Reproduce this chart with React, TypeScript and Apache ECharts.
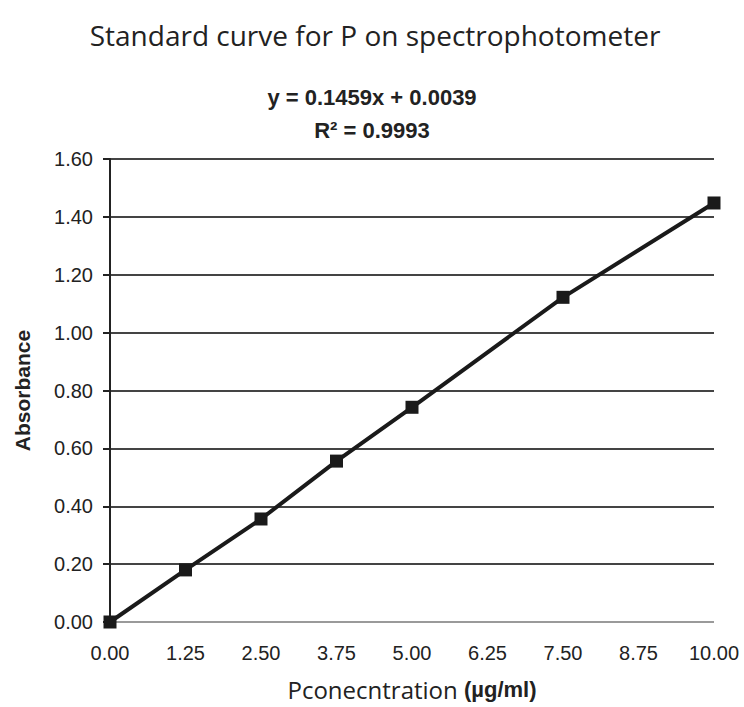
import React, { useEffect, useRef } from "react";
import * as echarts from "echarts";

const concentrations = [0, 1.25, 2.5, 3.75, 5.0, 7.5, 10.0];
const absorbance = [0.0, 0.18, 0.356, 0.556, 0.742, 1.122, 1.448];
const chartTitle = "Standard curve for P on spectrophotometer";
const equationText = "y = 0.1459x + 0.0039";
const r2Text = "R² = 0.9993";

export default function App() {
  const ref = useRef<HTMLDivElement>(null);
  useEffect(() => {
    if (!ref.current) return;
    const chart = echarts.init(ref.current, undefined, { renderer: "svg" });
    const armono = "'Liberation Sans', Arial, sans-serif";
    chart.setOption({
      animation: false,
      backgroundColor: "#ffffff",
      grid: { left: 110, right: 30, top: 159, bottom: 85, containLabel: false },
      graphic: [
        {
          type: "text",
          x: 375,
          y: 35,
          style: {
            text: chartTitle,
            font: "28px 'Open Sans', sans-serif",
            fill: "#222",
            textAlign: "center",
            textVerticalAlign: "middle",
          },
        },
        {
          type: "text",
          x: 372,
          y: 97,
          style: {
            text: equationText,
            font: "bold 22px " + armono,
            fill: "#222",
            textAlign: "center",
            textVerticalAlign: "middle",
          },
        },
        {
          type: "text",
          x: 372,
          y: 130,
          style: {
            text: r2Text,
            font: "bold 22px " + armono,
            fill: "#222",
            textAlign: "center",
            textVerticalAlign: "middle",
          },
        },
      ],
      xAxis: {
        type: "value",
        min: 0,
        max: 10,
        interval: 1.25,
        axisLine: { show: false },
        axisTick: { show: false },
        splitLine: { show: false },
        axisLabel: {
          margin: 21,
          color: "#222",
          fontSize: 20,
          fontFamily: armono,
          formatter: (v: number) => v.toFixed(2),
        },
        name: "{a|Pconecntration }{b|(µg/ml)}",
        nameLocation: "middle",
        nameGap: 55,
        nameTextStyle: {
          rich: {
            a: { fontSize: 24, fontFamily: "'Open Sans', sans-serif", color: "#222" },
            b: { fontSize: 22, fontWeight: "bold", fontFamily: armono, color: "#222" },
          },
        },
      },
      yAxis: {
        type: "value",
        min: 0,
        max: 1.6,
        interval: 0.2,
        axisLine: { show: true, lineStyle: { color: "#222", width: 2 } },
        axisTick: { show: true, length: 7, lineStyle: { color: "#222", width: 2 } },
        splitLine: {
          show: true,
          lineStyle: {
            color: ["#9a9a9a", "#444", "#444", "#444", "#444", "#444", "#444", "#444", "#444"],
            width: 2,
          },
        },
        axisLabel: {
          margin: 17,
          color: "#222",
          fontSize: 20,
          fontFamily: armono,
          formatter: (v: number) => v.toFixed(2),
        },
        name: "Absorbance",
        nameLocation: "middle",
        nameRotate: 90,
        nameGap: 77,
        nameTextStyle: { fontSize: 21, fontWeight: "bold", fontFamily: armono, color: "#222" },
      },
      series: [
        {
          type: "line",
          data: concentrations.map((x, i) => [x, absorbance[i]]),
          symbol: "rect",
          symbolSize: 13,
          lineStyle: { color: "#1a1a1a", width: 4 },
          itemStyle: { color: "#1a1a1a" },
        },
      ],
    });
    return () => chart.dispose();
  }, []);
  return <div ref={ref} style={{ width: 744, height: 707, position: "absolute", left: 0, top: 0 }} />;
}
